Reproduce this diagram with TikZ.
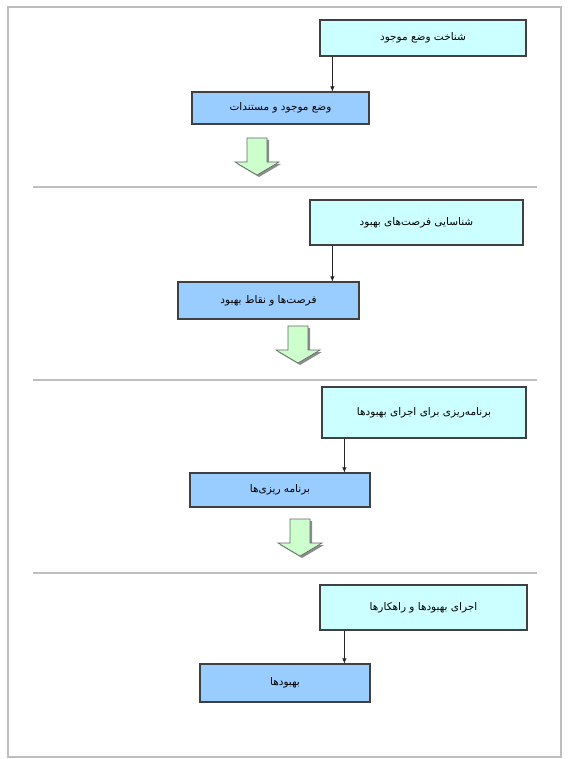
\documentclass[tikz,border=0pt]{standalone}
\usepackage{fontspec}
\newfontfamily\farsi[Script=Arabic]{DejaVu Sans}
\TeXXeTstate=1
\usetikzlibrary{arrows.meta}

\definecolor{boxcyan}{HTML}{CCFFFF}
\definecolor{boxblue}{HTML}{99CCFF}
\definecolor{arrowgreen}{HTML}{CCFFCC}
\definecolor{framegray}{HTML}{BEBEBE}

\newcommand{\fa}[1]{{\farsi\beginR #1\endR}}

\begin{document}
\begin{tikzpicture}[x=1pt,y=-1pt,
	stagebox/.style={draw=black!75, line width=1.2pt, fill=boxcyan, inner sep=0pt, font=\fontsize{10.5}{12}\selectfont},
	resultbox/.style={draw=black!75, line width=1.2pt, fill=boxblue, inner sep=0pt, font=\fontsize{10.5}{12}\selectfont},
	link/.style={-{Latex[length=5pt,width=4.5pt]}, black!85, line width=0.7pt},
	sepline/.style={framegray, line width=1.6pt},
	downarrow/.pic={
		\fill[black!45] (-8,2) -- (12,2) -- (12,26) -- (24,26) -- (2,39) -- (-20,26) -- (-8,26) -- cycle;
		\draw[black!60, fill=arrowgreen, line width=0.6pt] (-10,0) -- (10,0) -- (10,24) -- (22,24) -- (0,37) -- (-22,24) -- (-10,24) -- cycle;
	}]
		\useasboundingbox (0,0) rectangle (569,759);
		\draw[framegray, line width=2pt] (8,7) rectangle (561,757);
		
		% stage 1
		\node[stagebox, minimum width=206pt, minimum height=36pt] (s1) at (423,38) {\fa{شناخت وضع موجود}};
		\node[resultbox, minimum width=177pt, minimum height=32pt] (r1) at (280.5,108) {\fa{وضع موجود و مستندات}};
		\coordinate (j1) at ([xshift=13pt]s1.south west);
		\draw[link] (j1) -- (j1 |- r1.north);
		\pic at (257,138) {downarrow};
		\draw[sepline] (33,187) -- (537,187);
		
		% stage 2
		\node[stagebox, minimum width=213pt, minimum height=45pt] (s2) at (416.5,222.5) {\fa{شناسایی فرصت‌های بهبود}};
		\node[resultbox, minimum width=181pt, minimum height=37pt] (r2) at (268.5,300.5) {\fa{فرصت‌ها و نقاط بهبود}};
		\coordinate (j2) at ([xshift=23pt]s2.south west);
		\draw[link] (j2) -- (j2 |- r2.north);
		\pic at (298,326) {downarrow};
		\draw[sepline] (33,380) -- (537,380);
		
		% stage 3
		\node[stagebox, minimum width=204pt, minimum height=51pt] (s3) at (424,412.5) {\fa{برنامه‌ریزی برای اجرای بهبودها}};
		\node[resultbox, minimum width=180pt, minimum height=34pt] (r3) at (280,490) {\fa{برنامه ریزی‌ها}};
		\coordinate (j3) at ([xshift=23pt]s3.south west);
		\draw[link] (j3) -- (j3 |- r3.north);
		\pic at (300,519) {downarrow};
		\draw[sepline] (33,573) -- (537,573);
		
		% stage 4
		\node[stagebox, minimum width=207pt, minimum height=45pt] (s4) at (423.5,607.5) {\fa{اجرای بهبودها و راهکارها}};
		\node[resultbox, minimum width=170pt, minimum height=38pt] (r4) at (285,683) {\fa{بهبودها}};
		\coordinate (j4) at ([xshift=25pt]s4.south west);
		\draw[link] (j4) -- (j4 |- r4.north);
\end{tikzpicture}
\end{document}
